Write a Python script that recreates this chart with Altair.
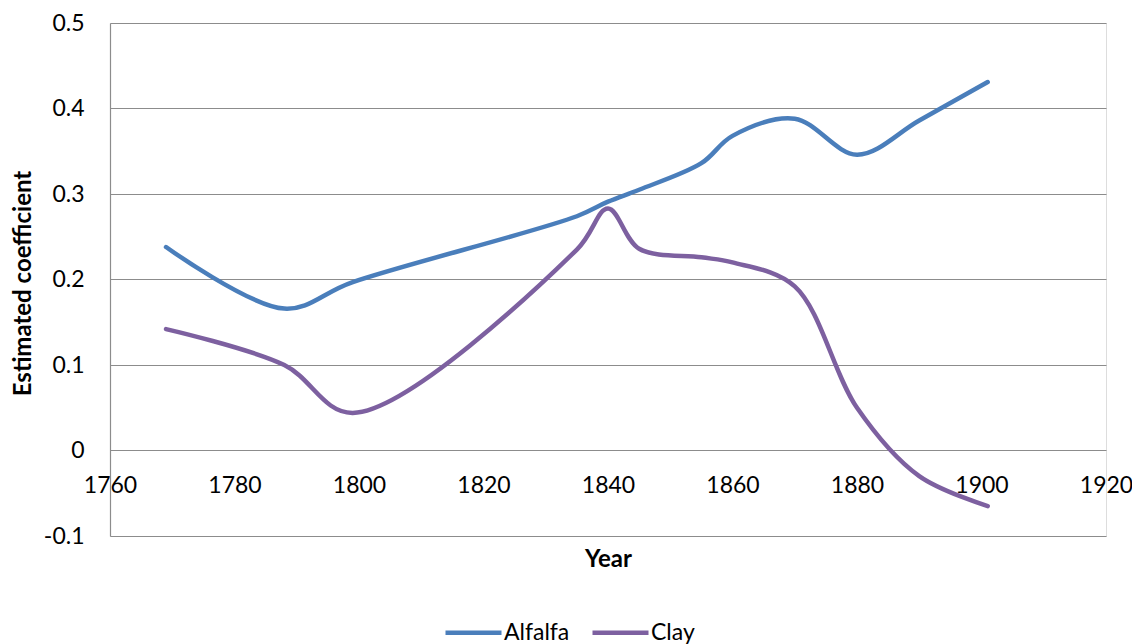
import altair as alt
import pandas as pd

years = [1769, 1788, 1799, 1835, 1840, 1845, 1855, 1860, 1870, 1880, 1890, 1901]
alfalfa = [0.238, 0.166, 0.197, 0.274, 0.291, 0.305, 0.336, 0.368, 0.388, 0.346, 0.386, 0.431]
clay = [0.142, 0.100, 0.044, 0.235, 0.283, 0.236, 0.226, 0.220, 0.192, 0.050, -0.030, -0.065]
series_names = ["Alfalfa", "Clay"]
series_colors = ["#4A7EBB", "#7D60A0"]
x_ticks = [1760, 1780, 1800, 1820, 1840, 1860, 1880, 1900, 1920]
y_ticks = [-0.1, 0, 0.1, 0.2, 0.3, 0.4, 0.5]

rows = []
for i, yr in enumerate(years):
    rows.append({"Year": yr, "value": alfalfa[i], "series": "Alfalfa", "order": i})
    rows.append({"Year": yr, "value": clay[i], "series": "Clay", "order": i})
df = pd.DataFrame(rows)

FONT = "Lato"
GRID = "#8C8C8C"
W, H = 996, 513

chart = alt.Chart(df).mark_line(
    strokeWidth=4.5, interpolate="catmull-rom", strokeCap="round", strokeJoin="round"
).encode(
    x=alt.X("Year:Q",
            scale=alt.Scale(domain=[1760, 1920], nice=False, zero=False),
            axis=alt.Axis(values=x_ticks, format="d", grid=False, domain=False, ticks=False,
                          offset=-86, labelPadding=24, labelFontSize=23, labelColor="#000000",
                          labelFont=FONT, title="Year", titleFont=FONT, titleFontSize=24,
                          titleFontWeight="bold", titleColor="#000000", titlePadding=50,
                          labelFlush=False, labelOverlap=False)),
    y=alt.Y("value:Q",
            scale=alt.Scale(domain=[-0.1, 0.5], nice=False, zero=False),
            axis=alt.Axis(values=y_ticks, grid=True, gridColor=GRID, gridWidth=1.2,
                          domain=True, domainColor=GRID, domainWidth=1.2, ticks=False,
                          labelExpr="datum.value == 0 ? '0' : (datum.value < 0 ? '-' + format(-datum.value, '.1f') : format(datum.value, '.1f'))",
                          labelPadding=26, labelFontSize=23, labelColor="#000000", labelFont=FONT,
                          title="Estimated coefficient", titleFont=FONT, titleFontSize=24,
                          titleFontWeight="bold", titleColor="#000000",
                          titleX=-87, titleY=260, titleAngle=-90, titleAlign="center",
                          titleBaseline="middle", labelOverlap=False)),
    color=alt.Color("series:N",
                    scale=alt.Scale(domain=series_names, range=series_colors),
                    legend=alt.Legend(orient="none", legendX=333, legendY=579, direction="horizontal",
                                      title=None, symbolType="stroke", symbolSize=3136,
                                      symbolStrokeWidth=4.5, labelFontSize=23, labelFont=FONT,
                                      labelColor="#000000", labelOffset=0, columnPadding=13,
                                      padding=0)),
    order="order:Q",
).properties(
    width=W, height=H,
    autosize=alt.AutoSizeParams(type="none"),
    padding={"left": 102, "top": 15, "right": 26, "bottom": 112},
).configure_view(stroke=None).configure(background="white")

chart.save("out.html", embed_options={"renderer": "svg", "actions": False})
